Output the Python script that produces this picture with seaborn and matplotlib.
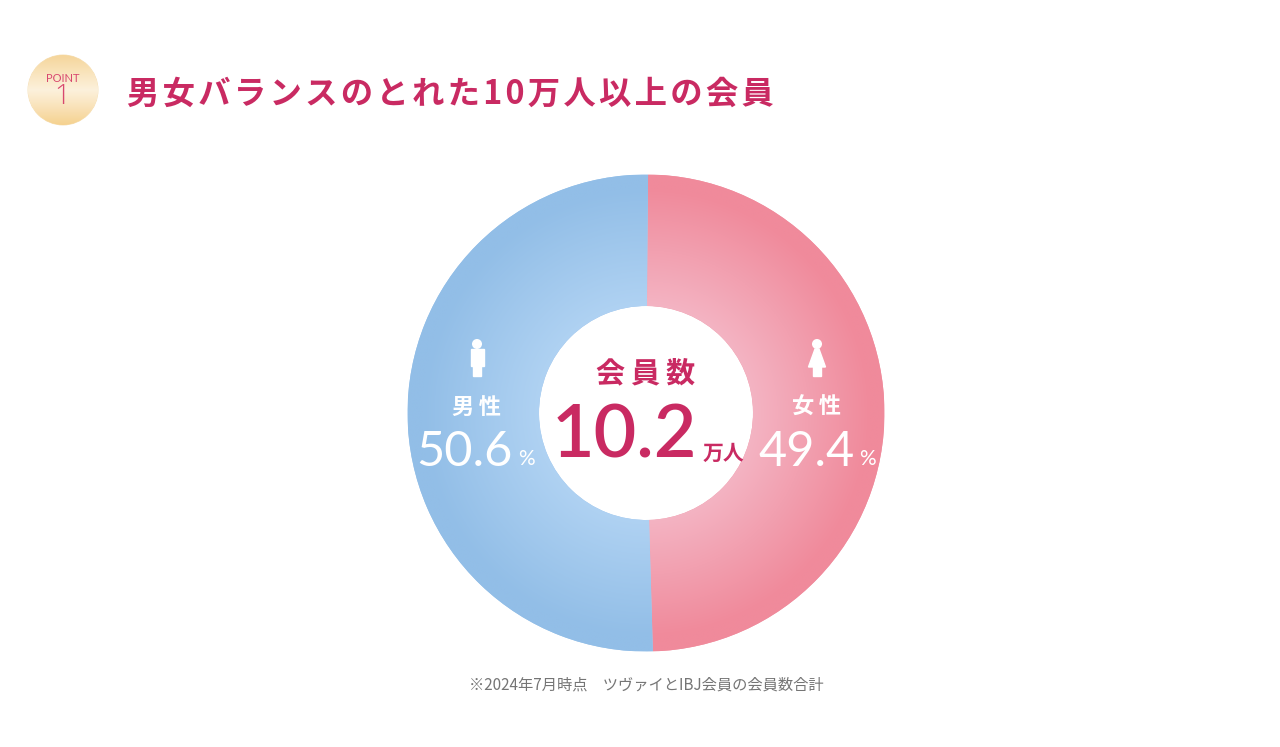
import numpy as np
import matplotlib
matplotlib.use("Agg")
import matplotlib.pyplot as plt
from matplotlib.patches import Circle, Polygon, Rectangle
import seaborn as sns

categories = ["女性", "男性"]
shares = [49.4, 50.6]
share_labels = ["49.4", "50.6"]
total_label = "10.2"
title = "男女バランスのとれた10万人以上の会員"
note = "※2024年7月時点　ツヴァイとIBJ会員の会員数合計"

sns.set_theme(style="white")
jp = ["Noto Sans CJK JP", "DejaVu Sans"]
plt.rcParams["font.family"] = jp

crimson = "#C92A62"
pink_cmap = sns.blend_palette(["#F4B6C5", "#F08A9B"], as_cmap=True)
blue_cmap = sns.blend_palette(["#B1D3F3", "#92BEE7"], as_cmap=True)
gold_cmap = sns.blend_palette(["#F5D59A", "#F9E4BC", "#FCF1DC", "#F9E2B8", "#F5D18F"], as_cmap=True)

fig = plt.figure(figsize=(12.8, 7.47), dpi=100, facecolor="white")

# donut
cx, cy, r_out, r_in = 646, 413, 238.5, 107
ax = fig.add_axes([(cx - r_out) / 1280, (747 - cy - r_out) / 747, 2 * r_out / 1280, 2 * r_out / 747])
wedges, _ = ax.pie(shares, startangle=89.5, counterclock=False, radius=1,
                   wedgeprops=dict(width=1 - r_in / r_out, linewidth=0))
ax.axis("off")

# radial shading, clipped to each wedge
g = np.linspace(-1, 1, 600)
xx, yy = np.meshgrid(g, g)
rr = np.clip((np.hypot(xx, yy) - 0.42) / 0.52, 0, 1)
for wedge, cmap in zip(wedges, [pink_cmap, blue_cmap]):
    wedge.set_facecolor(cmap(0.7))
    im = ax.imshow(rr, cmap=cmap, vmin=0, vmax=1, extent=(-1, 1, -1, 1), zorder=3)
    im.set_clip_path(wedge)
ax.set_xlim(-1, 1)
ax.set_ylim(-1, 1)

# everything else in pixel coordinates
top = fig.add_axes([0, 0, 1, 1])
top.axis("off")
top.patch.set_alpha(0)

# POINT badge
badge = Circle((63, 90), 35, facecolor="none", edgecolor="#F5DDB0", linewidth=0.6)
top.add_patch(badge)
grad = np.linspace(0, 1, 200).reshape(-1, 1)
bim = top.imshow(grad, cmap=gold_cmap, extent=(28, 98, 125, 55), aspect="auto", zorder=1)
bim.set_clip_path(badge)
top.set_xlim(0, 1280)
top.set_ylim(747, 0)
top.text(63, 78, "POINT", color="#D8486F", fontsize=8, ha="center", va="center", family="Lato", zorder=4)
top.text(62, 97, "1", color="#D8486F", fontsize=20, ha="center", va="center", family="Open Sans",
         fontweight="light", zorder=4)

# title and note
top.text(127, 94, "\u200a".join(title), color=crimson, fontsize=23.3, fontweight="bold",
         ha="left", va="center", family=jp)
top.text(646, 685, note, color="#757575", fontsize=11, ha="center", va="center", family=jp)

# centre
top.text(646, 373, "\u2009".join("会員数"), color=crimson, fontsize=21, fontweight="bold",
         ha="center", va="center", family=jp)
top.text(624, 437, total_label, color=crimson, fontsize=53, fontweight="semibold",
         ha="center", va="center", family="Lato")
top.text(723, 453, "万人", color=crimson, fontsize=15, fontweight="bold", ha="center", va="center", family=jp)

# segment labels
top.text(477, 407, "\u2009".join(categories[1]), color="white", fontsize=16, fontweight="bold",
         ha="center", va="center", family=jp)
top.text(464, 452, share_labels[1], color="white", fontsize=35, ha="center", va="center", family="Lato")
top.text(526, 459, "%", color="white", fontsize=15, ha="center", va="center", family="Lato")
top.text(817, 407, "\u2009".join(categories[0]), color="white", fontsize=16, fontweight="bold",
         ha="center", va="center", family=jp)
top.text(807, 452, share_labels[0], color="white", fontsize=35, ha="center", va="center", family="Lato")
top.text(867, 459, "%", color="white", fontsize=15, ha="center", va="center", family="Lato")

# person icons
top.add_patch(Circle((477, 344), 4.3, color="white", zorder=4))
top.add_patch(Rectangle((470.5, 349), 13, 17, color="white", zorder=4))
top.add_patch(Rectangle((473, 360), 8, 16, color="white", zorder=4))
top.add_patch(Circle((817, 344), 4.3, color="white", zorder=4))
top.add_patch(Polygon([(815, 349), (819, 349), (825.5, 367), (808.5, 367)], color="white", zorder=4))
top.add_patch(Rectangle((813, 365), 8, 11, color="white", zorder=4))

fig.savefig("out.png", dpi=100)
